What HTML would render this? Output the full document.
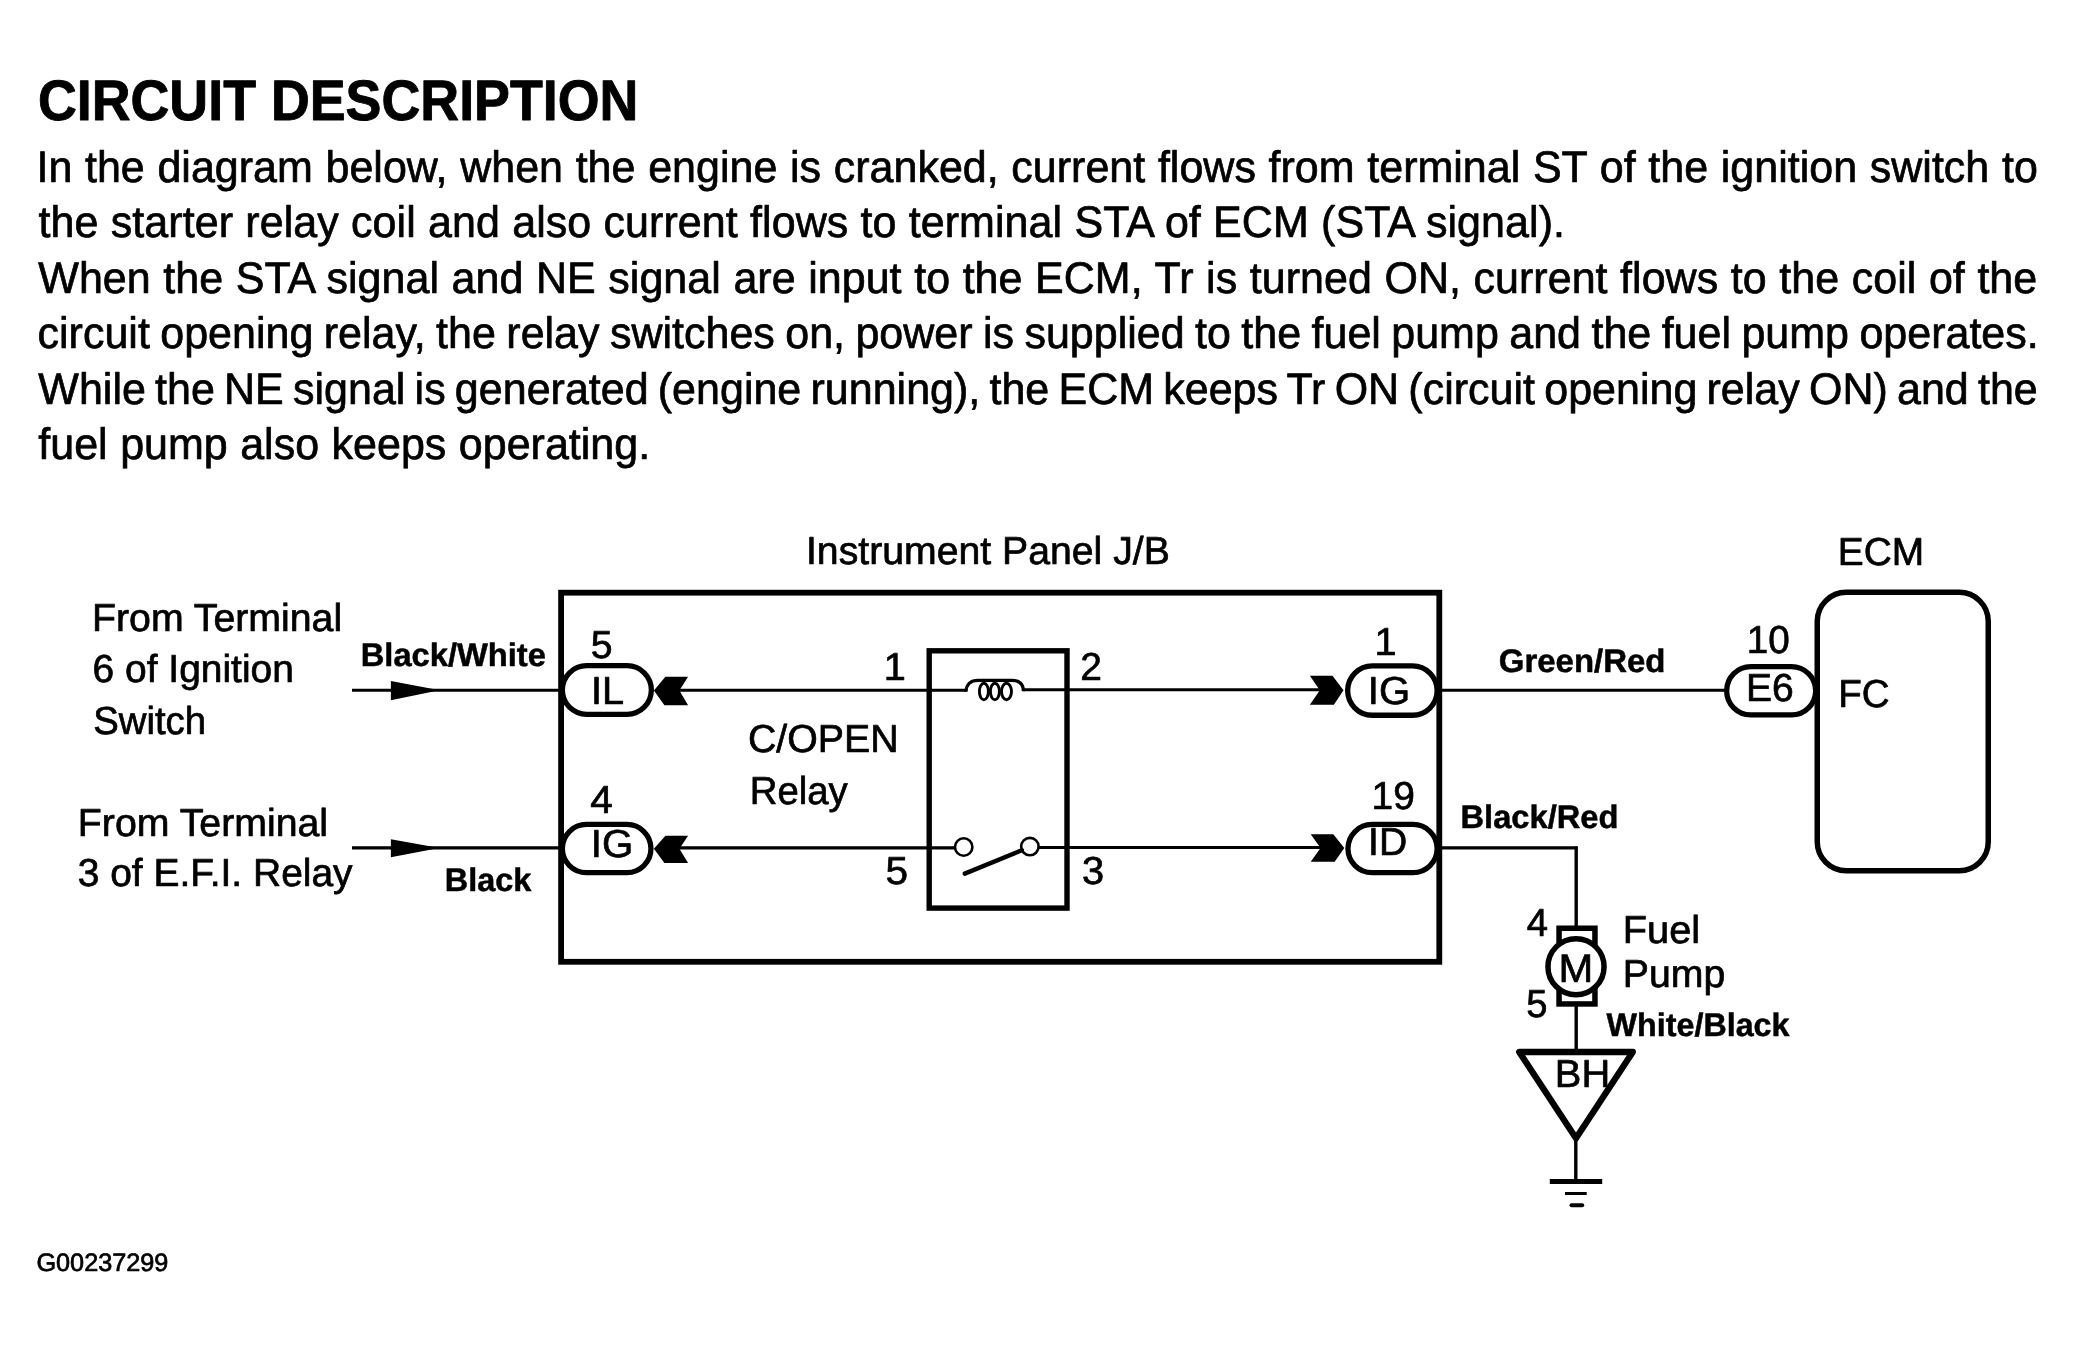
<!DOCTYPE html>
<html><head><meta charset="utf-8"><title>Circuit Description</title>
<style>
html,body{margin:0;padding:0;background:#fff;}
svg{display:block;will-change:transform;}
text{font-family:"Liberation Sans",sans-serif;fill:#000;white-space:pre;text-rendering:geometricPrecision;stroke:#000;stroke-width:0.7px;stroke-linejoin:round;}
.b{font-weight:bold;stroke-width:0.5px;}
.t{stroke-width:0.9px;}
</style></head>
<body>
<svg width="2074" height="1346" viewBox="0 0 2074 1346">
<rect width="2074" height="1346" fill="#fff"/>

<g fill="#fff" stroke="#000">
<rect x="562.35" y="665.65" width="89.00" height="48.70" rx="24.35" stroke-width="5.3"/>
<rect x="562.35" y="824.45" width="88.60" height="48.20" rx="24.10" stroke-width="5.3"/>
<rect x="1347.65" y="665.85" width="89.50" height="49.40" rx="24.70" stroke-width="5.3"/>
<rect x="1347.95" y="824.45" width="89.20" height="48.20" rx="24.10" stroke-width="5.3"/>
<rect x="1726.65" y="666.55" width="89.00" height="48.40" rx="24.20" stroke-width="5.3"/>
</g>
<g fill="none" stroke="#000">
<rect x="561.1" y="592.7" width="878.2" height="369.1" stroke-width="5.8"/>
<rect x="929.2" y="650.8" width="137.8" height="257.3" stroke-width="5.4"/>
<rect x="1817.25" y="592.35" width="171" height="278.4" rx="29" stroke-width="5.5"/>
<g stroke-width="3.1">
<path d="M352,690.2H561M679,690.2H929M931,690.2H966.1M1023.4,689.7H1322M1442,690.2H1726"/>
<path d="M352,847.9H561M679,847.9H954.5M1039,847.5H1322M1441,847.9H1577.6"/>
<path d="M966.1,691.7C966.1,684 971,680.3 978,680.3H1012C1019,680.3 1023.4,684 1023.4,691.2" stroke-width="3.2"/>
<ellipse cx="983.9" cy="691.5" rx="4.5" ry="8.3" stroke-width="2.9"/>
<ellipse cx="994.9" cy="691.5" rx="4.5" ry="8.3" stroke-width="2.9"/>
<ellipse cx="1006.5" cy="691.5" rx="5" ry="8.3" stroke-width="2.9"/>
<circle cx="963.7" cy="847" r="8.7" stroke-width="2.6"/>
<circle cx="1029.9" cy="846.6" r="8.7" stroke-width="2.6"/>
</g>
<path d="M1021.8,850.2L964.8,873.6" stroke-width="4.4" stroke-linecap="round"/>
<path d="M1576.2,846.4V928M1576.2,1006V1050M1575.8,1139V1180" stroke-width="3.4"/>
<rect x="1559.05" y="928.25" width="35.9" height="75.7" stroke-width="5.5"/>
<circle cx="1576" cy="966.7" r="28.05" stroke-width="5.5" fill="#fff"/>
<polygon points="1519.2,1052 1632.8,1052 1576,1138.3" stroke-width="6.3" stroke-linejoin="round"/>
<path d="M1549.8,1181.4H1602.2" stroke-width="5"/>
<path d="M1565,1193.5H1586.7" stroke-width="3"/>
<path d="M1571.5,1205.2H1582.2" stroke-width="4" stroke-linecap="round"/>
</g>
<g fill="#000">
<polygon points="653.9,690.5 665.4,676.8 688.1,676.8 679.4,690.5 688.1,705.3 664.4,705.3"/>
<polygon points="653.9,848.8 665.4,835.7 688.1,835.7 679.4,848.8 688.1,862.9 664.4,862.9"/>
<polygon points="1343.5,690.2 1332.5,675.8 1309.9,675.8 1319.8,690.2 1309.9,704.8 1333.9,704.8"/>
<polygon points="1344.3,847.9 1333.3,834.3 1310.7,834.3 1320.6,847.9 1310.7,861.7 1334.7,861.7"/>
<polygon points="390.9,680.9 434.5,689.2 434.5,691.2 390.9,700.2"/>
<polygon points="390.9,839.3 434,846.9 434,848.9 390.9,857.2"/>

</g>

<g>
<text class="r" font-size="39" x="92.04" y="630.60" textLength="250.14" lengthAdjust="spacingAndGlyphs">From Terminal</text>
<text class="r" font-size="39" x="92.57" y="681.80" textLength="201.31" lengthAdjust="spacingAndGlyphs">6 of Ignition</text>
<text class="r" font-size="39" x="93.20" y="733.50" textLength="112.85" lengthAdjust="spacingAndGlyphs">Switch</text>
<text class="r" font-size="39" x="77.84" y="835.50" textLength="250.24" lengthAdjust="spacingAndGlyphs">From Terminal</text>
<text class="r" font-size="39" x="77.68" y="885.90" textLength="274.92" lengthAdjust="spacingAndGlyphs">3 of E.F.I. Relay</text>
<text class="r" font-size="39" x="805.94" y="564.10" textLength="363.91" lengthAdjust="spacingAndGlyphs">Instrument Panel J/B</text>
<text class="r" font-size="39" x="1837.76" y="565.00" textLength="86.46" lengthAdjust="spacingAndGlyphs">ECM</text>
<text class="r" font-size="39" x="590.77" y="657.80" textLength="21.82" lengthAdjust="spacingAndGlyphs">5</text>
<text class="r" font-size="39" x="590.90" y="703.80" textLength="33.09" lengthAdjust="spacingAndGlyphs">IL</text>
<text class="r" font-size="39" x="590.37" y="812.70" textLength="22.54" lengthAdjust="spacingAndGlyphs">4</text>
<text class="r" font-size="39" x="590.86" y="856.80" textLength="42.44" lengthAdjust="spacingAndGlyphs">IG</text>
<text class="r" font-size="39" x="883.72" y="680.00" textLength="22.09" lengthAdjust="spacingAndGlyphs">1</text>
<text class="r" font-size="39" x="1080.18" y="680.00" textLength="21.69" lengthAdjust="spacingAndGlyphs">2</text>
<text class="r" font-size="39" x="885.53" y="883.80" textLength="22.62" lengthAdjust="spacingAndGlyphs">5</text>
<text class="r" font-size="39" x="1081.95" y="883.80" textLength="22.16" lengthAdjust="spacingAndGlyphs">3</text>
<text class="r" font-size="39" x="747.96" y="752.20" textLength="150.75" lengthAdjust="spacingAndGlyphs">C/OPEN</text>
<text class="r" font-size="39" x="749.71" y="804.00" textLength="97.99" lengthAdjust="spacingAndGlyphs">Relay</text>
<text class="r" font-size="39" x="1374.52" y="654.50" textLength="22.09" lengthAdjust="spacingAndGlyphs">1</text>
<text class="r" font-size="39" x="1367.87" y="704.30" textLength="42.33" lengthAdjust="spacingAndGlyphs">IG</text>
<text class="r" font-size="39" x="1371.57" y="809.30" textLength="43.31" lengthAdjust="spacingAndGlyphs">19</text>
<text class="r" font-size="39" x="1368.14" y="855.00" textLength="39.11" lengthAdjust="spacingAndGlyphs">ID</text>
<text class="r" font-size="39" x="1746.69" y="653.40" textLength="42.98" lengthAdjust="spacingAndGlyphs">10</text>
<text class="r" font-size="39" x="1746.05" y="701.10" textLength="47.73" lengthAdjust="spacingAndGlyphs">E6</text>
<text class="r" font-size="39" x="1838.19" y="706.50" textLength="51.34" lengthAdjust="spacingAndGlyphs">FC</text>
<text class="r" font-size="39" x="1526.70" y="935.60" textLength="21.25" lengthAdjust="spacingAndGlyphs">4</text>
<text class="r" font-size="39" x="1526.31" y="1016.50" textLength="21.24" lengthAdjust="spacingAndGlyphs">5</text>
<text class="r" font-size="40" x="1558.64" y="982.00" textLength="34.77" lengthAdjust="spacingAndGlyphs">M</text>
<text class="r" font-size="39" x="1622.79" y="943.30" textLength="77.33" lengthAdjust="spacingAndGlyphs">Fuel</text>
<text class="r" font-size="39" x="1622.84" y="986.60" textLength="102.45" lengthAdjust="spacingAndGlyphs">Pump</text>
<text class="r" font-size="39" x="1554.89" y="1086.50" textLength="55.36" lengthAdjust="spacingAndGlyphs">BH</text>
<text class="r" font-size="25.2" x="36.42" y="1270.70" textLength="132.01" lengthAdjust="spacingAndGlyphs">G00237299</text>
<text class="b" font-size="32.6" x="360.76" y="665.90" textLength="185.16" lengthAdjust="spacingAndGlyphs">Black/White</text>
<text class="b" font-size="32.6" x="444.77" y="890.70" textLength="86.62" lengthAdjust="spacingAndGlyphs">Black</text>
<text class="b" font-size="32.6" x="1498.77" y="672.10" textLength="166.74" lengthAdjust="spacingAndGlyphs">Green/Red</text>
<text class="b" font-size="32.6" x="1460.46" y="828.20" textLength="158.03" lengthAdjust="spacingAndGlyphs">Black/Red</text>
<text class="b" font-size="32.6" x="1606.60" y="1036.00" textLength="182.90" lengthAdjust="spacingAndGlyphs">White/Black</text>
<text class="b t" font-size="57" x="37.92" y="119.70" textLength="600.53" lengthAdjust="spacingAndGlyphs">CIRCUIT DESCRIPTION</text>
<text class="r" font-size="43" x="36.44" y="181.80" transform="matrix(1 0 0 1.025 0 -4.545)" word-spacing="0.715" textLength="2001.40" lengthAdjust="spacing">In the diagram below, when the engine is cranked, current flows from terminal ST of the ignition switch to</text>
<text class="r" font-size="43" x="38.60" y="237.40" transform="matrix(1 0 0 1.025 0 -5.935)" word-spacing="0.238" textLength="1526.38" lengthAdjust="spacing">the starter relay coil and also current flows to terminal STA of ECM (STA signal).</text>
<text class="r" font-size="43" x="38.30" y="292.80" transform="matrix(1 0 0 1.025 0 -7.320)" word-spacing="0.585" textLength="1998.94" lengthAdjust="spacing">When the STA signal and NE signal are input to the ECM, Tr is turned ON, current flows to the coil of the</text>
<text class="r" font-size="43" x="37.56" y="348.30" transform="matrix(1 0 0 1.025 0 -8.708)" word-spacing="-1.523" textLength="2001.13" lengthAdjust="spacing">circuit opening relay, the relay switches on, power is supplied to the fuel pump and the fuel pump operates.</text>
<text class="r" font-size="43" x="38.30" y="403.90" transform="matrix(1 0 0 1.025 0 -10.098)" word-spacing="-2.756" textLength="1999.44" lengthAdjust="spacing">While the NE signal is generated (engine running), the ECM keeps Tr ON (circuit opening relay ON) and the</text>
<text class="r" font-size="43" x="38.30" y="458.90" transform="matrix(1 0 0 1.025 0 -11.473)" word-spacing="0.556" textLength="611.78" lengthAdjust="spacing">fuel pump also keeps operating.</text>
</g>
</svg>
</body></html>
